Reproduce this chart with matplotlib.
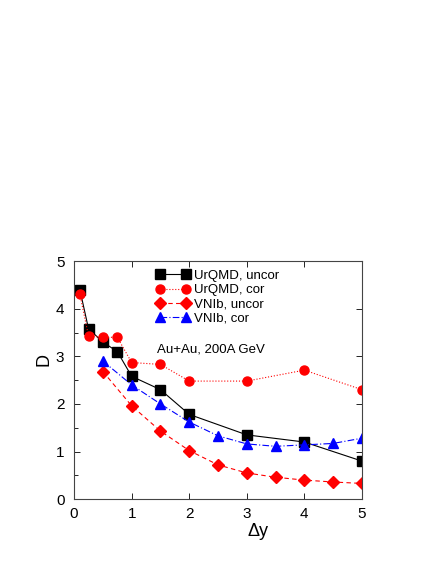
import matplotlib
matplotlib.use("Agg")
import matplotlib.pyplot as plt
from matplotlib.ticker import MultipleLocator

plt.rcParams['font.family'] = ['Liberation Sans', 'DejaVu Sans']

# data
x_urqmd = [0.1, 0.25, 0.5, 0.75, 1.0, 1.5, 2.0, 3.0, 4.0, 5.0]
urqmd_uncor = [4.40, 3.58, 3.30, 3.10, 2.58, 2.30, 1.78, 1.35, 1.20, 0.80]
urqmd_cor = [4.30, 3.43, 3.40, 3.40, 2.87, 2.83, 2.48, 2.48, 2.71, 2.30]

x_vni = [0.5, 1.0, 1.5, 2.0, 2.5, 3.0, 3.5, 4.0, 4.5, 5.0]
vni_uncor = [2.68, 1.96, 1.43, 1.02, 0.72, 0.55, 0.46, 0.40, 0.36, 0.33]
vni_cor = [2.90, 2.40, 2.00, 1.62, 1.33, 1.16, 1.11, 1.14, 1.17, 1.28]

fig = plt.figure(figsize=(4.36, 5.64), dpi=100)
ax = fig.add_axes([0.170, 0.115, 0.660, 0.422])

ax.plot(x_urqmd, urqmd_uncor, color='black', lw=0.8, ls='-',
        marker='s', ms=7, label='UrQMD, uncor')
ax.plot(x_urqmd, urqmd_cor, color='red', lw=0.8, ls=':',
        marker='o', ms=6.5, label='UrQMD, cor')
ax.plot(x_vni, vni_uncor, color='red', lw=0.8, ls=(0, (4, 3)),
        marker='D', ms=6, label='VNIb, uncor')
ax.plot(x_vni, vni_cor, color='blue', lw=0.8, ls=(0, (6, 2, 1, 2)),
        marker='^', ms=7.5, label='VNIb, cor')

ax.set_xlim(0, 5)
ax.set_ylim(0, 5)
ax.set_xticks([0, 1, 2, 3, 4, 5])
ax.set_yticks([0, 1, 2, 3, 4, 5])
ax.yaxis.set_minor_locator(MultipleLocator(0.5))
ax.tick_params(which='major', direction='in', top=True, right=True,
               labelsize=11, length=4, width=0.6)
ax.tick_params(axis='y', which='major', pad=7)
ax.tick_params(axis='x', which='major', pad=6)
ax.tick_params(axis='y', which='minor', direction='in', left=True, right=False,
               length=3, width=0.6)
for s in ax.spines.values():
    s.set_linewidth(0.8)
    s.set_color('#444444')

fig.text(258 / 436, 1 - 532 / 564, 'Δy', fontsize=13, ha='center', va='center')
fig.text(44 / 436, 1 - 359 / 564, 'D', fontsize=13, ha='center', va='center',
         rotation=90)

ax.legend(loc='upper left', bbox_to_anchor=(0.255, 1.0), frameon=False,
          numpoints=2, handlelength=2.6, handletextpad=0.3, labelspacing=0.15,
          fontsize=9.5, borderaxespad=0.25)
ax.text(0.288, 0.63, 'Au+Au, 200A GeV', transform=ax.transAxes, fontsize=9.5,
        va='center')

fig.savefig('out.png', dpi=100)
